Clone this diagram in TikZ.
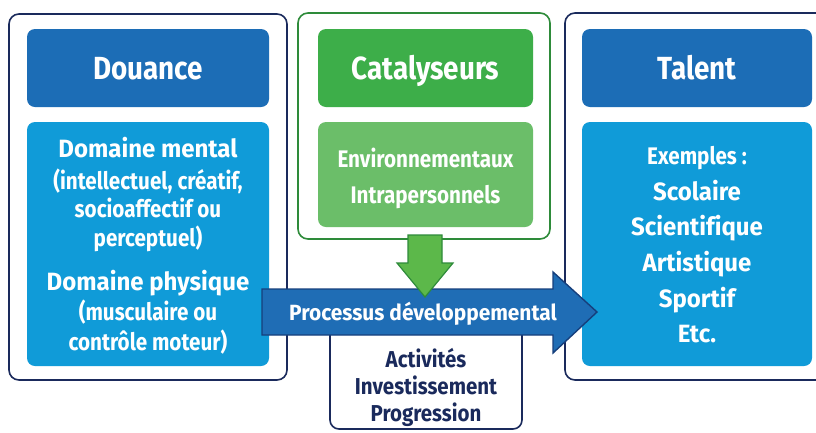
\documentclass[tikz,border=0pt]{standalone}
\usepackage{fontspec}
\newfontfamily\fbig[FakeStretch=0.87,Ligatures=NoCommon]{Fira Sans}
\newfontfamily\fmid[FakeStretch=0.96,Ligatures=NoCommon]{Fira Sans}
\newfontfamily\fsmall[FakeStretch=0.86,Ligatures=NoCommon]{Fira Sans}
\newfontfamily\fnavy[FakeStretch=0.89,Ligatures=NoCommon]{Fira Sans}
\newfontfamily\fproc[FakeStretch=0.95,Ligatures=NoCommon]{Fira Sans}
\definecolor{navy}{HTML}{1A2A5C}
\definecolor{hdrblue}{HTML}{1C6DB6}
\definecolor{ltblue}{HTML}{109BD8}
\definecolor{hdrgreen}{HTML}{3DAE49}
\definecolor{ltgreen}{HTML}{6BBE69}
\definecolor{dkgreen}{HTML}{2E8B3A}
\definecolor{arrgreen}{HTML}{5CB84A}
\definecolor{arrblue}{HTML}{1F6DB5}
\definecolor{arrborder}{HTML}{163F7C}
\tikzset{
  outerbox/.style={draw=navy, line width=1.6pt, rounded corners=10pt, fill=white},
  greenouter/.style={draw=dkgreen, line width=1.6pt, rounded corners=10pt, fill=white},
  txt/.style={text=white, inner sep=0pt, anchor=base},
  big/.style={txt, font=\fbig\bfseries\fontsize{32}{36}\selectfont},
  mid/.style={txt, font=\fmid\bfseries\fontsize{25}{29}\selectfont},
  small/.style={txt, font=\fsmall\bfseries\fontsize{24}{28}\selectfont},
  navytxt/.style={txt, text=navy, font=\fnavy\bfseries\fontsize{23}{27}\selectfont},
  proctxt/.style={txt, font=\fproc\bfseries\fontsize{22}{26}\selectfont},
}
\begin{document}
\begin{tikzpicture}[x=1pt,y=-1pt]
\useasboundingbox (0,0) rectangle (816,432);
\clip (0,0) rectangle (816,432);
% outer frames
\draw[outerbox] (9,14) rectangle (287,380);
\draw[greenouter] (298,13) rectangle (550,239);
\draw[outerbox] (565,13) rectangle (830,380);
% left column
\fill[hdrblue, rounded corners=8pt] (27,29) rectangle (269,107);
\node[big] (douance) at (148,79) {Douance};
\fill[ltblue, rounded corners=8pt] (27,122) rectangle (269,366);
\node[mid] (mental) at (148,157) {Domaine mental};
\node[small] (ment1) at (148,189) {(intellectuel, créatif,};
\node[small] (ment2) at (148,217) {socioaffectif ou};
\node[small] (ment3) at (148,246) {perceptuel)};
\node[mid] (physique) at (148,290) {Domaine physique};
\node[small] (phys1) at (148,320) {(musculaire ou};
\node[small] (phys2) at (148,350) {contrôle moteur)};
% middle column
\fill[hdrgreen, rounded corners=8pt] (318,29) rectangle (533,107);
\node[big] (cata) at (425.5,79) {Catalyseurs};
\fill[ltgreen, rounded corners=8pt] (318,122) rectangle (533,227);
\node[small] (env) at (425.5,167) {Environnementaux};
\node[small] (intra) at (425.5,203) {Intrapersonnels};
% right column
\fill[hdrblue, rounded corners=8pt] (582,29) rectangle (812,107);
\node[big] (talent) at (697,79) {Talent};
\fill[ltblue, rounded corners=8pt] (582,122) rectangle (812,366);
\node[small] (ex) at (697,164) {Exemples :};
\node[mid] (sco) at (697,200) {Scolaire};
\node[mid] (sci) at (697,235) {Scientifique};
\node[mid] (art) at (697,271) {Artistique};
\node[mid] (spo) at (697,307) {Sportif};
\node[mid] (etc) at (697,342) {Etc.};
% activities box
\draw[navy, line width=1.6pt, rounded corners=9pt, fill=white] (330,300) -- (330,429) -- (522,429) -- (522,300);
\node[navytxt] (act) at (426,367) {Activités};
\node[navytxt] (inv) at (426,394) {Investissement};
\node[navytxt] (prog) at (426,421) {Progression};
% blue process arrow
\draw[fill=arrblue, draw=arrborder, line width=1.4pt, line join=miter]
  (262,289) -- (553,289) -- (553,272) -- (597,312) -- (553,353) -- (553,335) -- (262,335) -- cycle;
\node[proctxt] (proc) at (423,320) {Processus développemental};
% green arrow
\draw[fill=arrgreen, draw=dkgreen, line width=1.2pt, line join=miter]
  (408,235) -- (442,235) -- (442,263) -- (453,263) -- (425,297) -- (397,263) -- (408,263) -- cycle;
\end{tikzpicture}
\end{document}
